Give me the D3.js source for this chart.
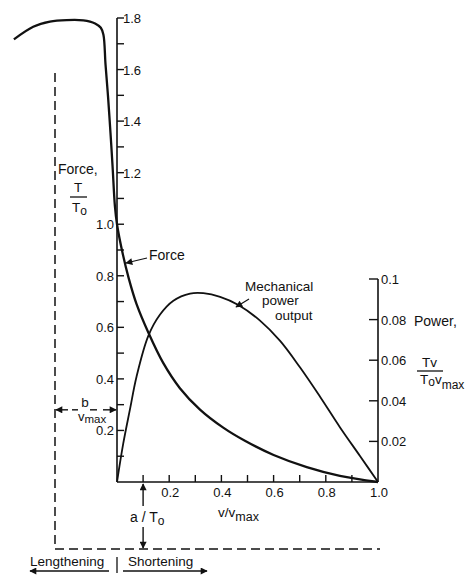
<!DOCTYPE html>
<html>
<head>
<meta charset="utf-8">
<script src="https://cdn.jsdelivr.net/npm/d3@7"></script>
<style>
  html, body { margin: 0; padding: 0; background: #fff; }
  svg text { font-family: "Liberation Sans", Arial, sans-serif; fill: #111; }
</style>
</head>
<body>
<svg id="chart" width="473" height="577"></svg>
<script>
// Force–velocity relation of muscle (relative force T/To against v/vmax),
// with the mechanical power output T·v/(To·vmax) on a second axis.

// Force curve, lengthening (negative v) through shortening (positive v)
const forceV = [-0.395, -0.321, -0.257, -0.193, -0.129, -0.084, -0.062, -0.052, -0.044, -0.034,
                -0.025, -0.017, -0.008, 0, 0.022, 0.045, 0.075, 0.12, 0.177, 0.241, 0.318,
                0.407, 0.49, 0.6, 0.727, 0.854, 1.0];
const forceT = [1.717, 1.766, 1.786, 1.792, 1.791, 1.779, 1.762, 1.735, 1.62, 1.49,
                1.355, 1.225, 1.07, 1.0, 0.885, 0.79, 0.69, 0.58, 0.462, 0.364, 0.281,
                0.211, 0.16, 0.105, 0.058, 0.024, 0];

// Mechanical power output curve
const powerV = [0, 0.024, 0.05, 0.075, 0.12, 0.165, 0.216, 0.28, 0.331, 0.395, 0.465,
                0.548, 0.625, 0.701, 0.778, 0.854, 0.931, 1.0];
const powerP = [0, 0.019, 0.036, 0.052, 0.072, 0.0825, 0.0893, 0.0928, 0.093, 0.0912, 0.0872,
                0.0795, 0.0695, 0.0565, 0.042, 0.027, 0.0128, 0];

// Axis ticks
const forceMinorTicks = d3.range(1, 19).map(i => i / 10);
const forceLabelsLeft = ["0.2", "0.4", "0.6", "0.8", "1.0"];
const forceLabelsRight = ["1.2", "1.4", "1.6", "1.8"];
const velocityTicks = d3.range(1, 10).map(i => i / 10);
const velocityLabels = ["0.2", "0.4", "0.6", "0.8", "1.0"];
const powerTicks = [0.02, 0.04, 0.06, 0.08, 0.1];
const powerLabels = ["0.02", "0.04", "0.06", "0.08", "0.1"];

// Marker constants shown on the plot
const aOverTo = 0.1;     // a/To, marked on the velocity axis
const bOverVmax = 0.28;  // height of the b/vmax arrow on the force axis

const svg = d3.select("#chart");

const x = d3.scaleLinear().domain([0, 1]).range([117, 378]);
const yF = d3.scaleLinear().domain([0, 1.8]).range([482, 18]);
const yP = d3.scaleLinear().domain([0, 0.1]).range([482, 279]);

const ink = "#111";

// Arrowhead marker
const defs = svg.append("defs");
defs.append("marker")
  .attr("id", "head")
  .attr("viewBox", "0 0 10 10")
  .attr("refX", 9).attr("refY", 5)
  .attr("markerWidth", 9).attr("markerHeight", 7)
  .attr("markerUnits", "userSpaceOnUse")
  .attr("orient", "auto")
  .append("path").attr("d", "M0,0 L10,5 L0,10 Z").attr("fill", ink);

// ---- Left (force) axis ----
const left = svg.append("g");
left.append("line")
  .attr("x1", x(0)).attr("x2", x(0))
  .attr("y1", yF(0)).attr("y2", yF(1.8))
  .attr("stroke", ink).attr("stroke-width", 1.6);
left.selectAll("line.tk").data(forceMinorTicks).join("line")
  .attr("class", "tk")
  .attr("x1", x(0)).attr("x2", x(0) + 7)
  .attr("y1", d => yF(d)).attr("y2", d => yF(d))
  .attr("stroke", ink).attr("stroke-width", 1.4);
left.selectAll("text.ll").data(forceLabelsLeft).join("text")
  .attr("class", "ll")
  .attr("x", x(0) - 3).attr("y", d => yF(+d) + 5)
  .attr("text-anchor", "end").attr("font-size", 13)
  .text(d => d);
left.selectAll("text.lr").data(forceLabelsRight).join("text")
  .attr("class", "lr")
  .attr("x", x(0) + 6).attr("y", d => yF(+d) + 5)
  .attr("text-anchor", "start").attr("font-size", 13)
  .text(d => d);

// ---- Bottom (velocity) axis ----
const bottom = svg.append("g");
bottom.append("line")
  .attr("x1", x(0)).attr("x2", x(1))
  .attr("y1", yF(0)).attr("y2", yF(0))
  .attr("stroke", ink).attr("stroke-width", 1.6);
bottom.selectAll("line.tk").data(velocityTicks).join("line")
  .attr("class", "tk")
  .attr("x1", d => x(d)).attr("x2", d => x(d))
  .attr("y1", yF(0)).attr("y2", yF(0) - 7)
  .attr("stroke", ink).attr("stroke-width", 1.4);
bottom.selectAll("text.vl").data(velocityLabels).join("text")
  .attr("class", "vl")
  .attr("x", d => x(+d) + 1).attr("y", yF(0) + 15)
  .attr("text-anchor", "middle").attr("font-size", 13)
  .text(d => d);

const vt = svg.append("text").attr("x", 218).attr("y", 517).attr("font-size", 13.5);
vt.append("tspan").text("v/v");
vt.append("tspan").attr("dy", 4).attr("font-size", 12.5).text("max");

// ---- Right (power) axis ----
const right = svg.append("g");
right.append("line")
  .attr("x1", x(1)).attr("x2", x(1))
  .attr("y1", yP(0)).attr("y2", yP(0.1))
  .attr("stroke", ink).attr("stroke-width", 1.6);
right.selectAll("line.tk").data(powerTicks).join("line")
  .attr("class", "tk")
  .attr("x1", x(1)).attr("x2", x(1) - 9)
  .attr("y1", d => yP(d)).attr("y2", d => yP(d))
  .attr("stroke", ink).attr("stroke-width", 1.4);
right.selectAll("text.pl").data(powerLabels).join("text")
  .attr("class", "pl")
  .attr("x", x(1) + 3).attr("y", d => yP(+d) + 5)
  .attr("font-size", 13)
  .text(d => d);

// ---- Axis titles ----
svg.append("text").attr("x", 58).attr("y", 174).attr("font-size", 14).text("Force,");
svg.append("text").attr("x", 78).attr("y", 192).attr("font-size", 13.5)
  .attr("text-anchor", "middle").text("T");
svg.append("line").attr("x1", 70).attr("x2", 87).attr("y1", 197).attr("y2", 197)
  .attr("stroke", ink).attr("stroke-width", 1.3);
const fden = svg.append("text").attr("x", 72).attr("y", 212).attr("font-size", 13.5);
fden.append("tspan").text("T");
fden.append("tspan").attr("dy", 3).attr("font-size", 12).text("o");

svg.append("text").attr("x", 414).attr("y", 326).attr("font-size", 14).text("Power,");
svg.append("text").attr("x", 422).attr("y", 367).attr("font-size", 13.5).text("Tv");
svg.append("line").attr("x1", 417).attr("x2", 443).attr("y1", 371).attr("y2", 371)
  .attr("stroke", ink).attr("stroke-width", 1.3);
const pden = svg.append("text").attr("x", 420).attr("y", 384).attr("font-size", 13.5);
pden.append("tspan").text("T");
pden.append("tspan").attr("dy", 2).attr("font-size", 12).text("o");
pden.append("tspan").attr("dy", -2).text("v");
pden.append("tspan").attr("dy", 5).attr("font-size", 12).text("max");

// ---- Curves ----
const forceLine = d3.line()
  .x(d => x(d[0])).y(d => yF(d[1]))
  .curve(d3.curveCatmullRom.alpha(0.5));
svg.append("path")
  .datum(d3.zip(forceV, forceT))
  .attr("d", forceLine)
  .attr("fill", "none").attr("stroke", ink).attr("stroke-width", 2.3)
  .attr("stroke-linejoin", "round");

const powerLine = d3.line()
  .x(d => x(d[0])).y(d => yP(d[1]))
  .curve(d3.curveCatmullRom.alpha(0.5));
svg.append("path")
  .datum(d3.zip(powerV, powerP))
  .attr("d", powerLine)
  .attr("fill", "none").attr("stroke", ink).attr("stroke-width", 1.8);

// ---- Curve labels ----
svg.append("text").attr("x", 149).attr("y", 260).attr("font-size", 14).text("Force");
svg.append("line").attr("x1", 147).attr("y1", 258).attr("x2", 126).attr("y2", 263)
  .attr("stroke", ink).attr("stroke-width", 1.2).attr("marker-end", "url(#head)");

svg.append("text").attr("x", 245).attr("y", 291).attr("font-size", 13.5).text("Mechanical");
svg.append("text").attr("x", 262).attr("y", 305).attr("font-size", 13.5).text("power");
svg.append("text").attr("x", 275).attr("y", 320).attr("font-size", 13.5).text("output");
svg.append("line").attr("x1", 249).attr("y1", 299).attr("x2", 236).attr("y2", 307)
  .attr("stroke", ink).attr("stroke-width", 1.2).attr("marker-end", "url(#head)");

// ---- Dashed frame for lengthening / shortening regions ----
const dash = "9,5";
const baseY = 549;
svg.append("path")
  .attr("d", `M55,73 L55,${baseY} L380,${baseY}`)
  .attr("fill", "none").attr("stroke", ink).attr("stroke-width", 1.5)
  .attr("stroke-dasharray", dash);

// b/vmax double arrow
const bY = yF(bOverVmax);
svg.append("line").attr("x1", 68).attr("x2", 56).attr("y1", bY).attr("y2", bY)
  .attr("stroke", ink).attr("stroke-width", 1.4).attr("marker-end", "url(#head)");
svg.append("line").attr("x1", 78).attr("x2", 72).attr("y1", bY).attr("y2", bY)
  .attr("stroke", ink).attr("stroke-width", 1.4);
svg.append("line").attr("x1", 90).attr("x2", 97).attr("y1", bY).attr("y2", bY)
  .attr("stroke", ink).attr("stroke-width", 1.4);
svg.append("line").attr("x1", 103).attr("x2", x(0) - 1).attr("y1", bY).attr("y2", bY)
  .attr("stroke", ink).attr("stroke-width", 1.4).attr("marker-end", "url(#head)");
svg.append("text").attr("x", 85).attr("y", bY - 3).attr("font-size", 13.5)
  .attr("text-anchor", "middle").text("b");
const bden = svg.append("text").attr("x", 78).attr("y", bY + 11).attr("font-size", 13);
bden.append("tspan").text("v");
bden.append("tspan").attr("dy", 2).attr("font-size", 11.5).text("max");

// a/To arrows along the velocity axis
const aX = x(aOverTo);
svg.append("line").attr("x1", aX).attr("x2", aX).attr("y1", 506).attr("y2", yF(0) + 2)
  .attr("stroke", ink).attr("stroke-width", 1.4).attr("marker-end", "url(#head)");
svg.append("line").attr("x1", aX).attr("x2", aX).attr("y1", 527).attr("y2", baseY - 1)
  .attr("stroke", ink).attr("stroke-width", 1.4).attr("marker-end", "url(#head)");
const at = svg.append("text").attr("x", 130).attr("y", 522).attr("font-size", 14);
at.append("tspan").text("a / T");
at.append("tspan").attr("dy", 3).attr("font-size", 12).text("o");

// Lengthening | Shortening
svg.append("text").attr("x", 30).attr("y", 566).attr("font-size", 13.5).text("Lengthening");
svg.append("text").attr("x", 128).attr("y", 566).attr("font-size", 13.5).text("Shortening");
svg.append("line").attr("x1", x(0)).attr("x2", x(0)).attr("y1", 557).attr("y2", 573)
  .attr("stroke", ink).attr("stroke-width", 1.3);
svg.append("line").attr("x1", 109).attr("x2", 30).attr("y1", 571).attr("y2", 571)
  .attr("stroke", ink).attr("stroke-width", 1.3).attr("marker-end", "url(#head)");
svg.append("line").attr("x1", 123).attr("x2", 207).attr("y1", 571).attr("y2", 571)
  .attr("stroke", ink).attr("stroke-width", 1.3).attr("marker-end", "url(#head)");
</script>
</body>
</html>
